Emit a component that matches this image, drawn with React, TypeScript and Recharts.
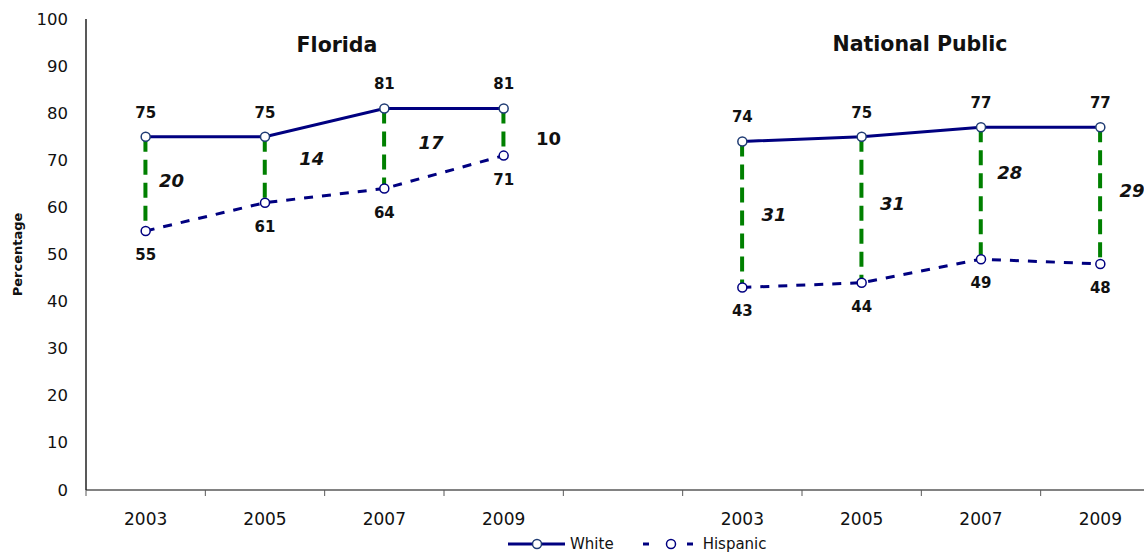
import React from 'react';
import { ComposedChart, Line, Bar, XAxis, YAxis, LabelList, Legend } from 'recharts';

// ---- data ----
const years = ['2003', '2005', '2007', '2009'];
const floridaWhite = [75, 75, 81, 81];
const floridaHispanic = [55, 61, 64, 71];
const floridaGap = [20, 14, 17, 10];
const nationalWhite = [74, 75, 77, 77];
const nationalHispanic = [43, 44, 49, 48];
const nationalGap = [31, 31, 28, 29];
const yTicks = [0, 10, 20, 30, 40, 50, 60, 70, 80, 90, 100];
const panelTitles = ['Florida', 'National Public'];
const seriesNames = ['White', 'Hispanic'];
const yAxisTitle = 'Percentage';

const buildRows = (prefix: string, white: number[], hisp: number[], gap: number[]) =>
  years.map((y, i) => ({
    key: `${prefix}-${y}`,
    year: y,
    white: white[i],
    hispanic: hisp[i],
    range: [hisp[i], white[i]],
    gap: gap[i],
  }));

const data: any[] = [
  ...buildRows('FL', floridaWhite, floridaHispanic, floridaGap),
  { key: 'spacer', year: '' },
  ...buildRows('NP', nationalWhite, nationalHispanic, nationalGap),
];
const yearByKey: Record<string, string> = {};
data.forEach((d) => (yearByKey[d.key] = d.year));

// ---- layout ----
const W = 1170;
const H = 553;
const MARGIN = { top: 19, right: 10, bottom: 0, left: 0 };
const Y_AXIS_W = 86;
const X_AXIS_H = 63;
const SLOT = (W - MARGIN.left - MARGIN.right - Y_AXIS_W) / data.length;
// hand placement of the gap labels (pixel nudges per category slot)
const GAP_LABEL_NUDGE: [number, number][] = [
  [-6, -3], [15, -11], [15, -6], [13, 6], [0, 0], [-1, -6], [-3, -21], [0, -5], [-2, -5],
];
// slots whose gap label is drawn upright (not italic)
const GAP_LABEL_UPRIGHT = [3];

const NAVY = '#000080';
const MARKER = '#1F3B73';
const GREEN = '#008000';
const TEXT = '#111111';
const FONT = '"DejaVu Sans", sans-serif';

const XTick = (props: any) => {
  const { x, y, payload } = props;
  return (
    <g>
      <line x1={x - SLOT / 2} x2={x - SLOT / 2} y1={y} y2={y + 6} stroke="#595959" strokeWidth={1} />
      <text x={x} y={y + 29} textAnchor="middle" dominantBaseline="central" fontFamily={FONT} fontSize={17} fill={TEXT}>
        {yearByKey[payload.value]}
      </text>
    </g>
  );
};

const YTick = (props: any) => {
  const { x, y, payload } = props;
  return (
    <text x={x} y={y} textAnchor="end" dominantBaseline="central" fontFamily={FONT} fontSize={16.5} fill={TEXT}>
      {payload.value}
    </text>
  );
};

const AboveLabel = (props: any) => {
  const { x, y, value } = props;
  if (value == null || x == null || y == null) return null;
  return (
    <text x={x} y={y - 24} textAnchor="middle" dominantBaseline="central" fontFamily={FONT} fontWeight="bold" fontSize={15} fill={TEXT}>
      {value}
    </text>
  );
};

const BelowLabel = (props: any) => {
  const { x, y, value } = props;
  if (value == null || x == null || y == null) return null;
  return (
    <text x={x} y={y + 24} textAnchor="middle" dominantBaseline="central" fontFamily={FONT} fontWeight="bold" fontSize={15} fill={TEXT}>
      {value}
    </text>
  );
};

const GapLabel = (props: any) => {
  const { x, y, width, height, value, index } = props;
  if (value == null || x == null) return null;
  const top = Math.min(y, y + height);
  const mid = top + Math.abs(height) / 2;
  const [dx, dy] = GAP_LABEL_NUDGE[index] || [0, 0];
  const upright = GAP_LABEL_UPRIGHT.includes(index);
  return (
    <text
      x={x + width / 2 + 32 + dx}
      y={mid + dy}
      textAnchor="middle"
      dominantBaseline="central"
      fontFamily={FONT}
      fontWeight="bold"
      fontStyle={upright ? 'normal' : 'italic'}
      fontSize={18}
      fill={TEXT}
    >
      {value}
    </text>
  );
};

const GapShape = (props: any) => {
  const { x, y, width, height } = props;
  if (x == null || y == null || !height) return null;
  const top = Math.min(y, y + height);
  const cx = x + width / 2;
  return (
    <line x1={cx} x2={cx} y1={top} y2={top + Math.abs(height)} stroke={GREEN} strokeWidth={4} strokeDasharray="15 8" />
  );
};

const LegendContent = () => (
  <div style={{ display: 'flex', alignItems: 'center', fontFamily: FONT, fontSize: 15, color: TEXT, whiteSpace: 'nowrap', lineHeight: '14px' }}>
    <svg width={57} height={12} style={{ display: 'block' }}>
      <line x1={0} x2={57} y1={6} y2={6} stroke={NAVY} strokeWidth={3} />
      <circle cx={29} cy={6} r={4.5} fill="#fff" stroke={MARKER} strokeWidth={1.5} />
    </svg>
    <span style={{ marginLeft: 5 }}>{seriesNames[0]}</span>
    <svg width={50} height={12} style={{ display: 'block', marginLeft: 29 }}>
      <line x1={0} x2={6} y1={6} y2={6} stroke={NAVY} strokeWidth={3} />
      <circle cx={28} cy={6} r={4.5} fill="#fff" stroke={NAVY} strokeWidth={1.5} />
      <line x1={44} x2={50} y1={6} y2={6} stroke={NAVY} strokeWidth={3} />
    </svg>
    <span style={{ marginLeft: 10 }}>{seriesNames[1]}</span>
  </div>
);

const titleStyle = (cx: number, cy: number): React.CSSProperties => ({
  position: 'absolute',
  left: cx,
  top: cy,
  transform: 'translate(-50%, -50%)',
  fontFamily: FONT,
  fontWeight: 'bold',
  fontSize: 20.5,
  color: TEXT,
  whiteSpace: 'nowrap',
  pointerEvents: 'none',
});

export default function App() {
  return (
    <div style={{ position: 'absolute', left: 0, top: 0, width: 1144, height: H, overflow: 'hidden', background: '#fff' }}>
      <ComposedChart width={W} height={H} data={data} margin={MARGIN}>
        <XAxis
          dataKey="key"
          height={X_AXIS_H}
          interval={0}
          tickSize={0}
          tickMargin={0}
          tickLine={false}
          axisLine={{ stroke: '#595959', strokeWidth: 1.5 }}
          tick={<XTick />}
        />
        <YAxis
          width={Y_AXIS_W}
          domain={[0, 100]}
          ticks={yTicks}
          interval={0}
          tickLine={false}
          tickSize={0}
          tickMargin={18}
          axisLine={{ stroke: '#222', strokeWidth: 1.5 }}
          tick={<YTick />}
          label={({ viewBox }: any) => (
            <text
              x={17}
              y={viewBox.y + viewBox.height / 2}
              transform={`rotate(-90, 17, ${viewBox.y + viewBox.height / 2})`}
              textAnchor="middle"
              dominantBaseline="central"
              fontFamily={FONT}
              fontWeight="bold"
              fontSize={13}
              fill={TEXT}
            >
              {yAxisTitle}
            </text>
          )}
        />
        <Bar dataKey="range" isAnimationActive={false} shape={<GapShape />} legendType="none">
          <LabelList dataKey="gap" content={<GapLabel />} />
        </Bar>
        <Line
          dataKey="hispanic"
          name={seriesNames[1]}
          stroke={NAVY}
          strokeWidth={3}
          strokeDasharray="9 9"
          dot={{ r: 4.5, fill: '#fff', stroke: NAVY, strokeWidth: 1.5, strokeDasharray: '' }}
          activeDot={false}
          isAnimationActive={false}
        >
          <LabelList dataKey="hispanic" content={<BelowLabel />} />
        </Line>
        <Line
          dataKey="white"
          name={seriesNames[0]}
          stroke={NAVY}
          strokeWidth={3}
          dot={{ r: 4.5, fill: '#fff', stroke: MARKER, strokeWidth: 1.5 }}
          activeDot={false}
          isAnimationActive={false}
        >
          <LabelList dataKey="white" content={<AboveLabel />} />
        </Line>
        <Legend
          layout="horizontal"
          verticalAlign="middle"
          align="center"
          content={<LegendContent />}
          wrapperStyle={{ left: 508, top: 537, width: 320, height: 14 }}
        />
      </ComposedChart>
      <div style={titleStyle(337, 45)}>{panelTitles[0]}</div>
      <div style={titleStyle(920, 44)}>{panelTitles[1]}</div>
    </div>
  );
}
